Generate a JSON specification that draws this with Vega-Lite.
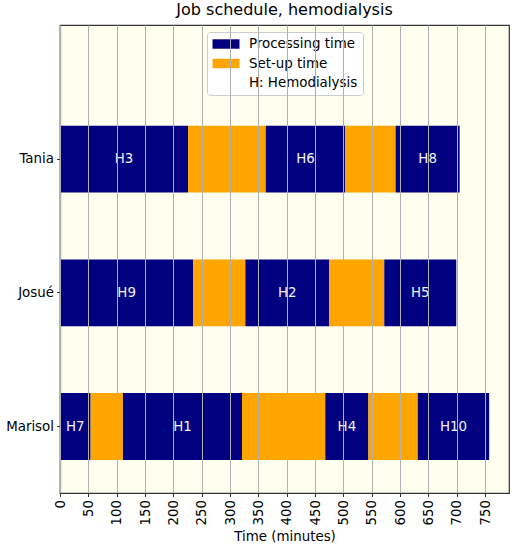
{
  "$schema": "https://vega.github.io/schema/vega-lite/v6.json",
  "width": 449,
  "height": 468,
  "autosize": {"type": "none"},
  "padding": {"left": 60, "top": 25, "right": 8, "bottom": 57},
  "background": "white",
  "title": {
    "text": "Job schedule, hemodialysis",
    "font": "DejaVu Sans",
    "fontSize": 16,
    "fontWeight": "normal",
    "color": "black",
    "baseline": "bottom",
    "offset": 5,
    "dy": 14
  },
  "data": {
    "values": [
      {"person": "Tania", "job": "H3", "kind": "Processing time", "start": 0, "end": 226},
      {"person": "Tania", "job": "", "kind": "Set-up time", "start": 226, "end": 363},
      {"person": "Tania", "job": "H6", "kind": "Processing time", "start": 363, "end": 503},
      {"person": "Tania", "job": "", "kind": "Set-up time", "start": 503, "end": 592},
      {"person": "Tania", "job": "H8", "kind": "Processing time", "start": 592, "end": 705},
      {"person": "Josué", "job": "H9", "kind": "Processing time", "start": 0, "end": 235},
      {"person": "Josué", "job": "", "kind": "Set-up time", "start": 235, "end": 327},
      {"person": "Josué", "job": "H2", "kind": "Processing time", "start": 327, "end": 475},
      {"person": "Josué", "job": "", "kind": "Set-up time", "start": 475, "end": 572},
      {"person": "Josué", "job": "H5", "kind": "Processing time", "start": 572, "end": 699},
      {"person": "Marisol", "job": "H7", "kind": "Processing time", "start": 0, "end": 54},
      {"person": "Marisol", "job": "", "kind": "Set-up time", "start": 54, "end": 111},
      {"person": "Marisol", "job": "H1", "kind": "Processing time", "start": 111, "end": 321},
      {"person": "Marisol", "job": "", "kind": "Set-up time", "start": 321, "end": 468},
      {"person": "Marisol", "job": "H4", "kind": "Processing time", "start": 468, "end": 544},
      {"person": "Marisol", "job": "", "kind": "Set-up time", "start": 544, "end": 631},
      {"person": "Marisol", "job": "H10", "kind": "Processing time", "start": 631, "end": 757}
    ]
  },
  "encoding": {
    "y": {
      "field": "person",
      "type": "nominal",
      "sort": ["Tania", "Josué", "Marisol"],
      "title": null,
      "scale": {"paddingInner": 0.5, "paddingOuter": 0.5, "align": 0.753},
      "axis": {
        "labelFont": "DejaVu Sans",
        "labelFontSize": 13.4,
        "labelColor": "black",
        "labelPadding": 3,
        "tickSize": 3.5,
        "tickColor": "#333",
        "domainColor": "#333",
        "domainWidth": 1.2,
        "grid": false
      }
    },
    "x": {
      "field": "start",
      "type": "quantitative",
      "title": "Time (minutes)",
      "scale": {"domain": [0, 792], "nice": false, "zero": true},
      "axis": {
        "values": [0, 50, 100, 150, 200, 250, 300, 350, 400, 450, 500, 550, 600, 650, 700, 750],
        "zindex": 1,
        "grid": true,
        "gridColor": "#b0b0b0",
        "gridWidth": 1,
        "labelAngle": 270,
        "labelAlign": "right",
        "labelBaseline": "middle",
        "labelFont": "DejaVu Sans",
        "labelFontSize": 13.4,
        "labelColor": "black",
        "labelPadding": 3,
        "tickSize": 3.5,
        "tickColor": "#333",
        "domainColor": "#333",
        "domainWidth": 1.2,
        "titleFont": "DejaVu Sans",
        "titleFontSize": 13.4,
        "titleFontWeight": "normal",
        "titleColor": "black",
        "titlePadding": 4
      }
    }
  },
  "layer": [
    {
      "mark": {"type": "bar", "opacity": 1},
      "encoding": {
        "x2": {"field": "end"},
        "color": {
          "field": "kind",
          "type": "nominal",
          "title": null,
          "scale": {
            "domain": ["Processing time", "Set-up time", "H: Hemodialysis"],
            "range": ["#000080", "#ffa500", "transparent"]
          },
          "legend": {
            "orient": "none",
            "legendX": 147,
            "legendY": 7,
            "fillColor": "white",
            "strokeColor": "#cccccc",
            "cornerRadius": 3,
            "padding": 5,
            "symbolType": "M-2,-0.7H2V0.7H-2Z",
            "symbolSize": 182,
            "symbolOffset": 7,
            "symbolStrokeWidth": 0,
            "symbolOpacity": 1,
            "labelFont": "DejaVu Sans",
            "labelFontSize": 13.4,
            "labelColor": "black",
            "labelOffset": 16,
            "rowPadding": 5.5
          }
        }
      }
    },
    {
      "transform": [
        {"filter": "datum.job != ''"},
        {"calculate": "(datum.start + datum.end) / 2", "as": "mid"}
      ],
      "mark": {
        "type": "text",
        "color": "#f4f4f4",
        "font": "DejaVu Sans",
        "fontSize": 13.4,
        "align": "center",
        "baseline": "middle"
      },
      "encoding": {
        "x": {"field": "mid", "type": "quantitative"},
        "text": {"field": "job"}
      }
    }
  ],
  "config": {
    "view": {"fill": "#fffff0", "stroke": "#333", "strokeWidth": 1.2}
  }
}
